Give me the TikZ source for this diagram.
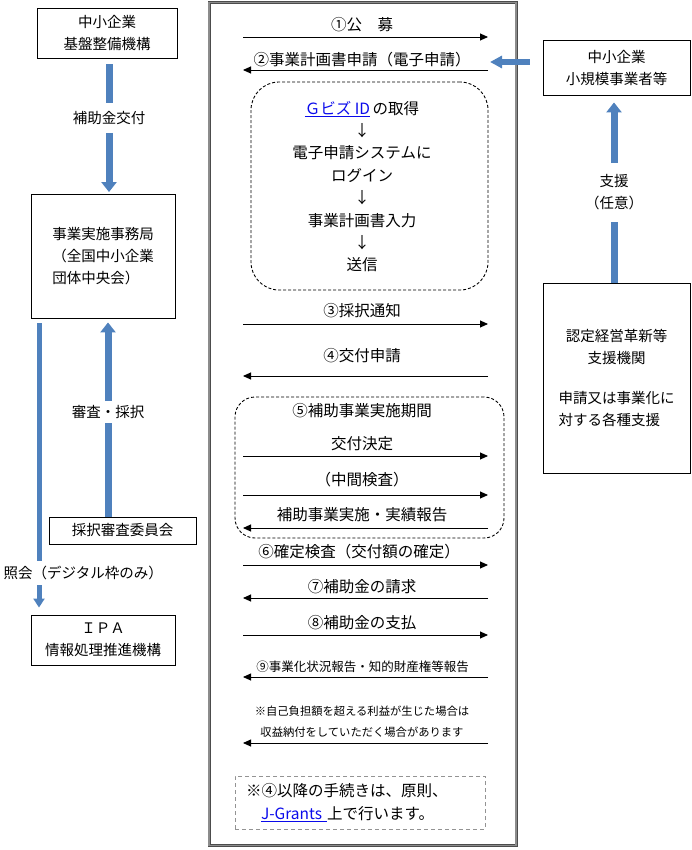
\documentclass[tikz,border=0pt]{standalone}
\usepackage{fontspec}
\setmainfont{Noto Sans CJK JP}
\definecolor{ArrowBlue}{RGB}{79, 129, 189}
\definecolor{LinkBlue}{RGB}{10, 10, 235}
\usetikzlibrary{positioning, arrows.meta, shapes}

\begin{document}
\begin{tikzpicture}[x=1pt, y=-1pt,
  every node/.style={font=\fontsize{14.5}{22}\selectfont},
  box/.style={rectangle, draw, line width=0.9pt, align=center},
  msg/.style={font=\fontsize{15.5}{22.4}\selectfont},
  smallmsg/.style={font=\fontsize{12.5}{20}\selectfont},
  notemsg/.style={font=\fontsize{11.3}{21}\selectfont, align=center},
  flow/.style={-{Triangle[length=8pt, width=7pt]}, line width=0.9pt},
  bluebar/.style={line width=7pt, ArrowBlue},
  bluearrow/.style={-{Triangle[length=10pt, width=15pt]}, line width=7pt, ArrowBlue},
  dashbox/.style={draw, dash pattern=on 3pt off 2pt, line width=0.9pt}]
\useasboundingbox (0,0) rectangle (692,850);

% left column
\node[box, minimum width=140pt, minimum height=50pt] (kiban) at (107,33) {中小企業\\基盤整備機構};
\node[box, minimum width=144pt, minimum height=124pt, align=left] (jimu) at (103,256) {事業実施事務局\\（全国中小企業\\団体中央会）};
\node[box, minimum width=147pt, minimum height=27pt] (iinkai) at (122.5,530.5) {採択審査委員会};
\node[box, minimum width=144pt, minimum height=50pt] (ipa) at (103,640) {ＩＰＡ\\情報処理推進機構};
\node[inner ysep=8pt] (kofu) at (109,118) {補助金交付};
\node[inner ysep=4pt] (shinsa) at (108,412) {審査・採択};
\node[inner ysep=5pt, anchor=west] (shokai) at (0,573) {照会（デジタル枠のみ）};
\coordinate (shokaiTop) at ([xshift=-64pt, yshift=-5pt]jimu.south);
\draw[bluebar, shorten <=6pt] (kiban.south -| kofu) -- (kofu.north);
\draw[bluearrow, shorten >=1.5pt] (kofu.south) -- (jimu.north -| kofu);
\draw[bluebar] (iinkai.north -| shinsa) -- (shinsa.south);
\draw[bluearrow, shorten >=4pt] (shinsa.north) -- (jimu.south -| shinsa);
\draw[line width=5pt, ArrowBlue] (shokaiTop) -- (shokaiTop |- shokai.north);
\draw[-{Triangle[length=9pt, width=11pt]}, line width=5pt, ArrowBlue, shorten >=7pt] (shokaiTop |- shokai.south) -- (ipa.north -| shokaiTop);

% right column
\node[box, minimum width=147pt, minimum height=55pt] (sme) at (616.5,67.5) {中小企業\\小規模事業者等};
\node[box, minimum width=147pt, minimum height=190pt] (nintei) at (616.5,378) {認定経営革新等\\支援機関\\[18pt]申請又は事業化に\\対する各種支援\hphantom{に}};
\node[inner ysep=11.5pt, align=center] (shien) at (614,192.5) {支援\\（任意）};
\draw[bluebar] (nintei.north -| shien) -- (shien.south);
\draw[bluearrow, shorten >=7pt] (shien.north) -- (sme.south -| shien);

% middle frame
\draw[draw=black!70, double=black!45, double distance=1.4pt, line width=0.8pt] (209,2.5) rectangle (516,845.5);

\coordinate (koboL) at (243,37);
\coordinate (koboR) at (488,37);
\node[msg] (kobo) at (362,25) {①公　募};
\draw[flow] (koboL) -- (koboR);

\coordinate (shinseiL) at (243,70);
\coordinate (shinseiR) at (488,70);
\node[msg] (shinsei) at (362,60) {②事業計画書申請（電子申請）};
\draw[flow] (shinseiR) -- (shinseiL);
\draw[-{Triangle[length=12pt, width=12pt]}, line width=6pt, ArrowBlue, shorten <=13pt, shorten >=2pt] ([yshift=5.5pt]sme.west) -- ([yshift=8pt]shinseiR);

\node[dashbox, rounded corners=28pt, minimum width=237pt, minimum height=208pt] (gbiz) at (369.5,186) {};
\node[msg, align=center] (steps) at (362,186.5) {\textcolor{LinkBlue}{\underline{Ｇビズ ID}}\,の取得\\↓\\電子申請システムに\\ログイン\\↓\\事業計画書入力\\↓\\送信};

\coordinate (saitakuL) at (243,324);
\coordinate (saitakuR) at (488,324);
\node[msg] (saitaku) at (362,311) {③採択通知};
\draw[flow] (saitakuL) -- (saitakuR);

\coordinate (kofushinseiL) at (243,376);
\coordinate (kofushinseiR) at (488,376);
\node[msg] (kofushinsei) at (362,356) {④交付申請};
\draw[flow] (kofushinseiR) -- (kofushinseiL);

\node[dashbox, rounded corners=20pt, minimum width=269pt, minimum height=141pt] (kikan) at (369.5,467.5) {};
\node[msg] (kikanlabel) at (362,411) {⑤補助事業実施期間};

\coordinate (keteiL) at (243,456);
\coordinate (keteiR) at (488,456);
\node[msg] (ketei) at (362,444) {交付決定};
\draw[flow] (keteiL) -- (keteiR);

\coordinate (chukanL) at (243,495);
\coordinate (chukanR) at (488,495);
\node[msg] (chukan) at (362,480) {（中間検査）};
\draw[flow] (chukanL) -- (chukanR);

\coordinate (hokokuL) at (243,528);
\coordinate (hokokuR) at (488,528);
\node[msg] (hokoku) at (362,515) {補助事業実施・実績報告};
\draw[flow] (hokokuR) -- (hokokuL);

\coordinate (kakuteiL) at (243,565);
\coordinate (kakuteiR) at (488,565);
\node[msg] (kakutei) at (359,552) {⑥確定検査（交付額の確定）};
\draw[flow] (kakuteiL) -- (kakuteiR);

\coordinate (seikyuL) at (243,598);
\coordinate (seikyuR) at (488,598);
\node[msg] (seikyu) at (362,587) {⑦補助金の請求};
\draw[flow] (seikyuR) -- (seikyuL);

\coordinate (shiharaiL) at (243,635);
\coordinate (shiharaiR) at (488,635);
\node[msg] (shiharai) at (362,623) {⑧補助金の支払};
\draw[flow] (shiharaiL) -- (shiharaiR);

\coordinate (jigyokaL) at (243,677);
\coordinate (jigyokaR) at (488,677);
\node[smallmsg] (jigyoka) at (362.5,667) {⑨事業化状況報告・知的財産権等報告};
\draw[flow] (jigyokaR) -- (jigyokaL);

\coordinate (muekiL) at (243,743);
\coordinate (muekiR) at (488,743);
\node[notemsg] (mueki) at (362,721.5) {※自己負担額を超える利益が生じた場合は\\収益納付をしていただく場合があります};
\draw[flow] (muekiR) -- (muekiL);

\node[msg, draw=gray!85, line width=1pt, dash pattern=on 4pt off 3pt, minimum width=250pt, minimum height=53pt, text width=228pt, align=left] (jgrants) at (360,802.5) {※④以降の手続きは、原則、\\\hspace*{15pt}\textcolor{LinkBlue}{\underline{J-Grants }}上で行います。};
\end{tikzpicture}
\end{document}
